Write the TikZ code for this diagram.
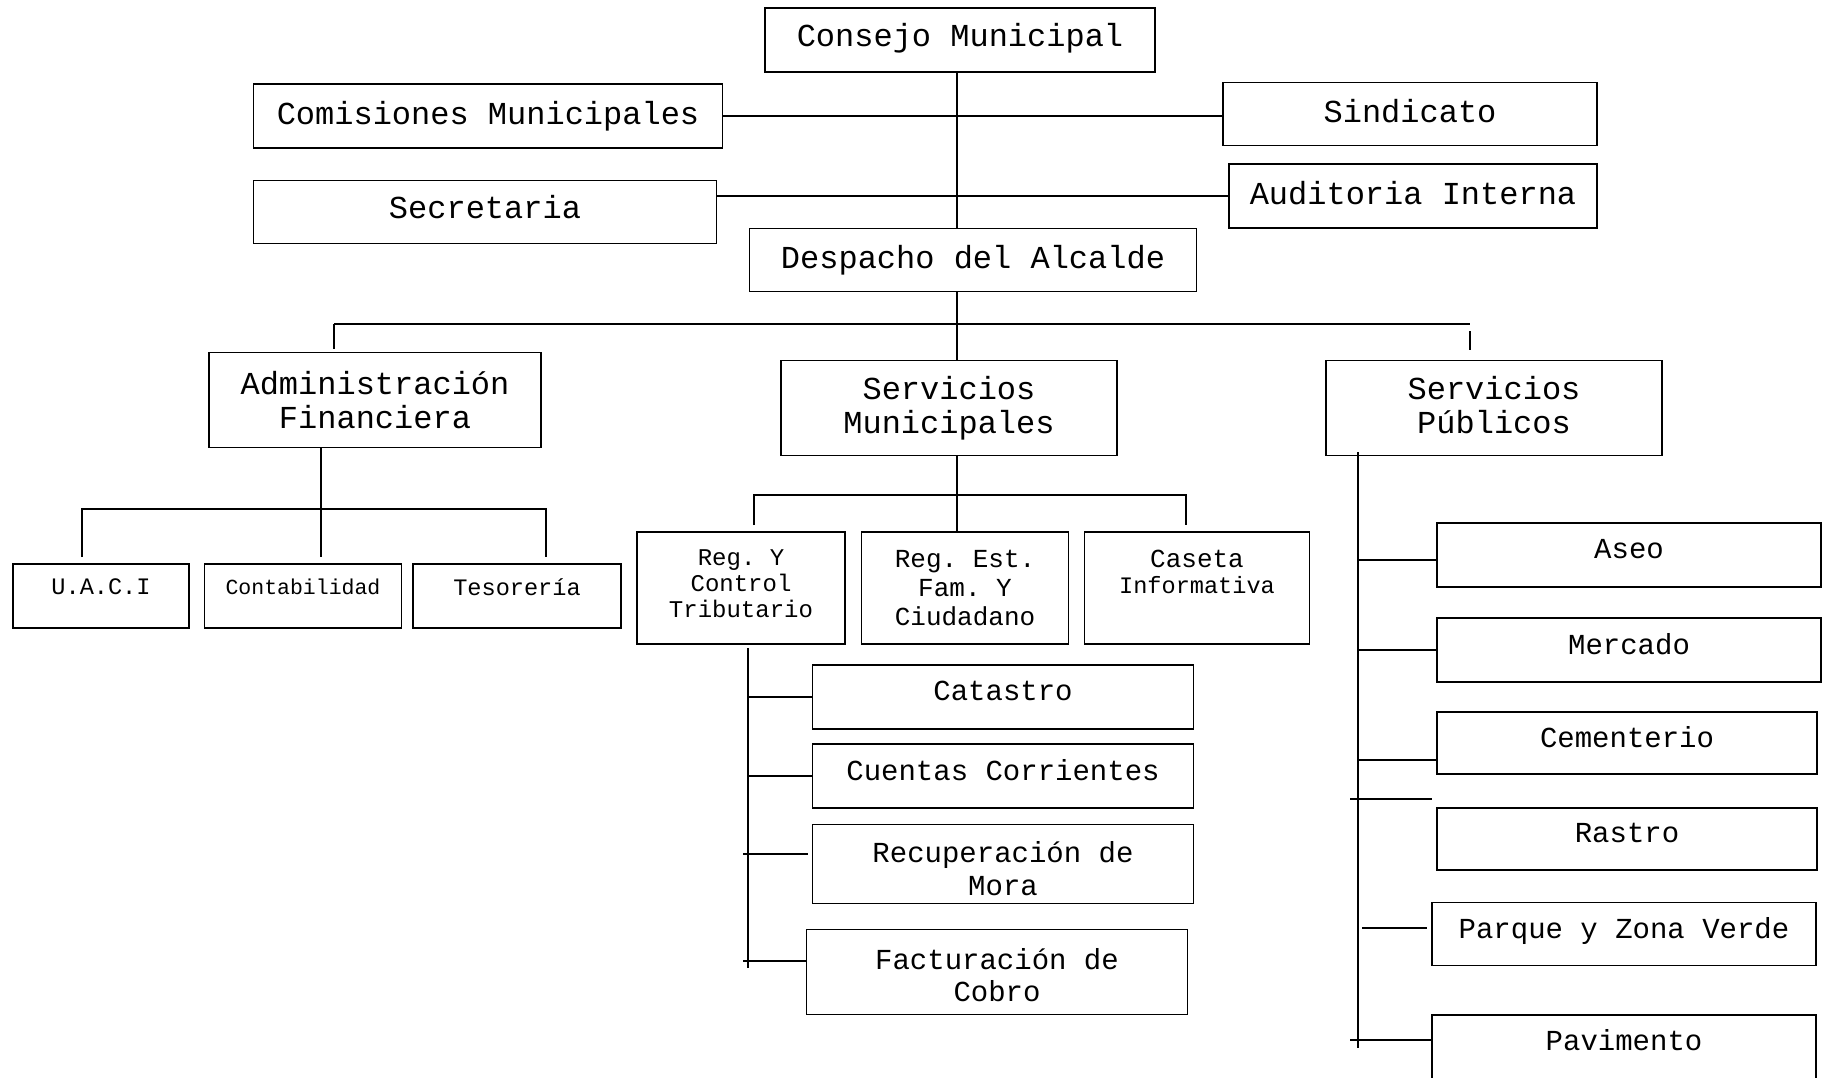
\documentclass[tikz,border=0pt]{standalone}
\usepackage{fontspec}
\setmonofont{Liberation Mono}
\usepackage{tikz}

\begin{document}
\begin{tikzpicture}[x=1pt,y=-1pt,line width=1.5pt,
    box/.style={draw,rectangle,inner sep=0pt,align=center},
    sz/.style 2 args={minimum width=#1pt,minimum height=#2pt},
    big/.style={font=\ttfamily\fontsize{32}{34}\selectfont},
    mid/.style={font=\ttfamily\fontsize{29}{32.6}\selectfont},
    sml/.style={font=\ttfamily\fontsize{23.6}{25.6}\selectfont}]
  \useasboundingbox (0,0) rectangle (1825,1077);

  \node[box,big,sz={390}{64},text depth=10pt] (consejo) at (960,40) {Consejo Municipal};
  \node[box,big,sz={469}{64}] (comisiones) at (488,116) {Comisiones Municipales};
  \node[box,big,sz={374}{63},text depth=6pt] (sindicato) at (1410,114) {Sindicato};
  \node[box,big,sz={463}{63},text depth=10pt] (secretaria) at (485,212) {Secretaria};
  \node[box,big,sz={368}{64},text depth=6pt] (auditoria) at (1413,196) {Auditoria Interna};
  \node[box,big,sz={447}{63}] (despacho) at (973,260) {Despacho del Alcalde};
  \node[box,big,sz={332}{95}] (adminfin) at (375,400) {Administración\\Financiera};
  \node[box,big,sz={336}{95}] (servmun) at (949,408) {Servicios\\Municipales};
  \node[box,big,sz={336}{95},text depth=7pt] (servpub) at (1494,408) {Servicios\\Públicos};

  \node[box,sml,sz={176}{64},text depth=18pt] (uaci) at (101,596) {U.A.C.I};
  \node[box,sz={197}{64},text depth=18pt,font=\ttfamily\fontsize{21.5}{24}\selectfont] (contab) at (303,596) {Contabilidad};
  \node[box,sml,sz={208}{64},text depth=18pt] (tesoreria) at (517,596) {Tesorería};

  \node[box,font=\ttfamily\fontsize{24}{25.6}\selectfont,sz={208}{112},text depth=9pt] (regy) at (741,588) {Reg. Y\\Control\\Tributario};
  \node[box,font=\ttfamily\fontsize{26}{29}\selectfont,sz={207}{112}] (regest) at (965,588) {Reg. Est.\\Fam. Y\\Ciudadano};
  \node[box,font=\ttfamily\fontsize{26}{25.6}\selectfont,sz={225}{112},text depth=32pt] (caseta) at (1197,588) {Caseta\\{\fontsize{23.6}{25.6}\selectfont Informativa}};

  \node[box,mid,sz={381}{64},text depth=12pt] (catastro) at (1003,697) {Catastro};
  \node[box,mid,sz={381}{64},text depth=12pt] (cuentas) at (1003,776) {Cuentas Corrientes};
  \node[box,mid,sz={381}{79},text height=63pt] (recuperacion) at (1003,864) {Recuperación de\\Mora};
  \node[box,mid,sz={381}{85},text height=60pt] (facturacion) at (997,972) {Facturación de\\Cobro};

  \node[box,mid,sz={384}{64},text depth=12pt] (aseo) at (1629,555) {Aseo};
  \node[box,mid,sz={384}{64},text depth=12pt] (mercado) at (1629,650) {Mercado};
  \node[box,mid,sz={380}{62},text depth=12pt] (cementerio) at (1627,743) {Cementerio};
  \node[box,mid,sz={380}{62},text depth=12pt] (rastro) at (1627,839) {Rastro};
  \node[box,mid,sz={384}{63},text depth=12pt] (parque) at (1624,934) {Parque y Zona Verde};
  \node[box,mid,sz={384}{70},text depth=20pt] (pavimento) at (1624,1050) {Pavimento};

  \coordinate (trunk) at (957,0);
  \draw (trunk |- consejo.south) -- (trunk |- despacho.north);
  \draw (comisiones.east) -- (comisiones.east -| sindicato.west);
  \draw (auditoria.west) -- (auditoria.west -| secretaria.east);

  \coordinate (busL) at (334,324);
  \coordinate (busR) at (1470,324);
  \coordinate (tickL) at (334,349);
  \coordinate (tickRa) at (1470,331);
  \coordinate (tickRb) at (1470,350);
  \draw (busL) -- (busR);
  \draw (busL) -- (tickL);
  \draw (tickRa) -- (tickRb);
  \draw (trunk |- despacho.south) -- (trunk |- servmun.north);

  \coordinate (ab) at (321,509);
  \coordinate (a1) at (82,557);
  \coordinate (a3) at (546,557);
  \draw (ab |- adminfin.south) -- (ab |- a1);
  \draw (a1) |- (a3 |- ab) -- (a3);

  \coordinate (sb) at (957,495);
  \coordinate (s1) at (754,525);
  \coordinate (s3) at (1186,525);
  \draw (trunk |- servmun.south) -- (trunk |- regest.north);
  \draw (s1) |- (s3 |- sb) -- (s3);

  \coordinate (rtop) at (748,648);
  \coordinate (rbot) at (748,968);
  \coordinate (m1) at (743,854);
  \coordinate (m2) at (808,854);
  \coordinate (f1) at (743,961);
  \draw (rtop) -- (rbot);
  \draw (rtop |- catastro.west) -- (catastro.west);
  \draw (rtop |- cuentas.west) -- (cuentas.west);
  \draw (m1) -- (m2);
  \draw (f1) -- (f1 -| facturacion.west);

  \coordinate (ptop) at (1358,452);
  \coordinate (pbot) at (1358,1048);
  \coordinate (st1) at (1350,799);
  \coordinate (st2) at (1432,799);
  \coordinate (pq1) at (1362,928);
  \coordinate (pq2) at (1427,928);
  \coordinate (pv) at (1350,1040);
  \draw (ptop) -- (pbot);
  \draw (ptop |- 0,560) -- (aseo.west |- 0,560);
  \draw (ptop |- mercado.west) -- (mercado.west);
  \draw (ptop |- 0,760) -- (cementerio.west |- 0,760);
  \draw (st1) -- (st2);
  \draw (pq1) -- (pq2);
  \draw (pv) -- (pv -| pavimento.west);
\end{tikzpicture}
\end{document}
